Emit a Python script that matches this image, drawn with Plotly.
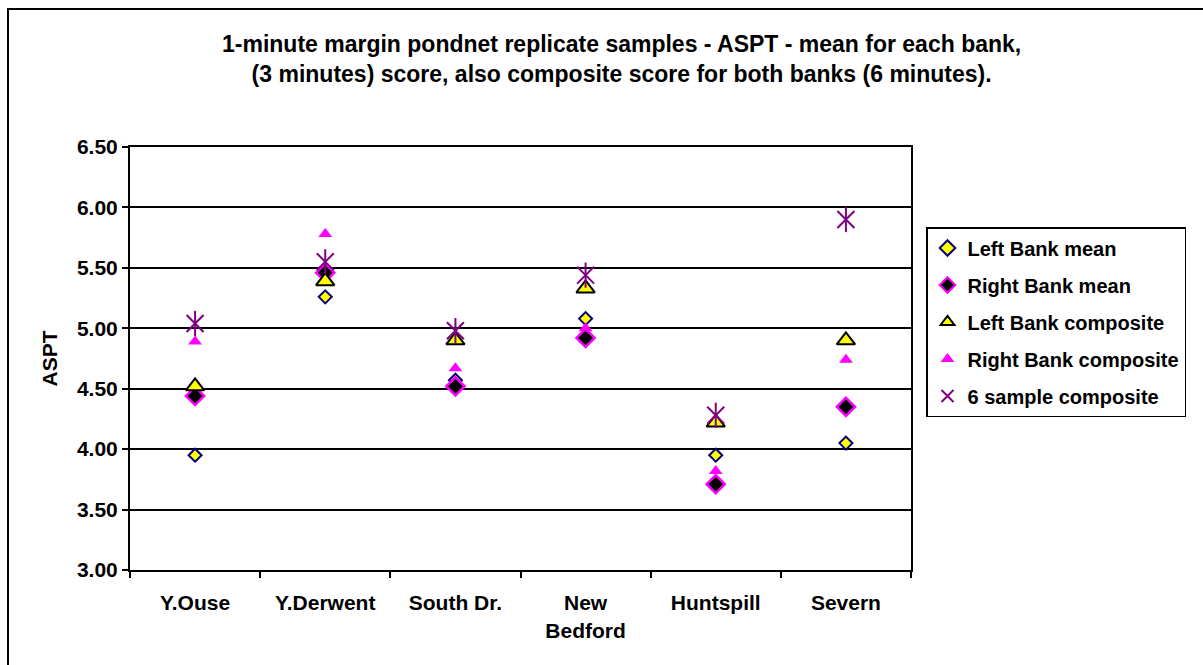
import plotly.graph_objects as go

categories = ["Y.Ouse", "Y.Derwent", "South Dr.", "New<br>Bedford", "Huntspill", "Severn"]
left_bank_mean = [3.95, 5.26, 4.57, 5.08, 3.95, 4.05]
right_bank_mean = [4.44, 5.46, 4.52, 4.92, 3.71, 4.35]
left_bank_comp = [4.52, 5.39, 4.90, 5.33, 4.22, 4.90]
right_bank_comp = [4.89, 5.78, 4.67, 5.00, 3.82, 4.74]
six_sample_comp = [5.04, 5.55, 4.98, 5.44, 4.28, 5.90]
y_ticks = [3.0, 3.5, 4.0, 4.5, 5.0, 5.5, 6.0, 6.5]

FONT = "Liberation Sans, Arial, sans-serif"

fig = go.Figure()
fig.add_trace(go.Scatter(
    x=categories, y=left_bank_mean, mode="markers", name="Left Bank mean",
    legendgroup="a",
    marker=dict(symbol="diamond", size=10, color="#FFFF00", line=dict(color="#000080", width=2))))
fig.add_trace(go.Scatter(
    x=categories, y=right_bank_mean, mode="markers", name="Right Bank mean",
    legendgroup="b",
    marker=dict(symbol="diamond", size=14, color="#000000", line=dict(color="#FF00FF", width=2.5))))
fig.add_trace(go.Scatter(
    x=categories, y=left_bank_comp, mode="markers", name="Left Bank composite",
    legendgroup="c",
    marker=dict(symbol="triangle-up", size=16, color="#FFFF00", line=dict(color="#000000", width=2))))
fig.add_trace(go.Scatter(
    x=categories, y=right_bank_comp, mode="markers", name="Right Bank composite",
    legendgroup="d",
    marker=dict(symbol="triangle-up", size=12, color="#FF00FF", line=dict(width=0))))
fig.add_trace(go.Scatter(
    x=categories, y=six_sample_comp, mode="markers", name="6 sample composite",
    legendgroup="e",
    marker=dict(symbol="x-thin-open", size=17, color="#800080", line=dict(color="#800080", width=2))))
fig.add_trace(go.Scatter(
    x=categories, y=six_sample_comp, mode="markers", showlegend=False,
    legendgroup="e", hoverinfo="skip",
    marker=dict(symbol="line-ns-open", size=18, color="#800080", line=dict(color="#800080", width=2))))

W, H = 1203, 665
L, R, T, B = 130, 292, 147, 95
pw, ph = W - L - R, H - T - B

def px_x(x):
    return (x - L) / pw

def px_y(y):
    return (H - B - y) / ph

fig.update_layout(
    width=W, height=H,
    margin=dict(l=L, r=R, t=T, b=B, autoexpand=False),
    paper_bgcolor="white", plot_bgcolor="white",
    font=dict(family=FONT, size=21, color="black", weight="bold"),
    showlegend=True,
    legend=dict(
        x=px_x(926), y=px_y(227), xanchor="left", yanchor="top",
        bordercolor="black", borderwidth=1.5, bgcolor="white",
        font=dict(family=FONT, size=20, color="black", weight="bold"),
        traceorder="grouped", tracegroupgap=8,
        itemsizing="constant", itemwidth=30,
    ),
    xaxis=dict(
        type="category", range=[-0.5, 5.5],
        showline=True, linecolor="black", linewidth=2, mirror=True,
        ticks="outside", tickson="boundaries", ticklen=6, tickcolor="black", tickwidth=2,
        showgrid=False, zeroline=False, ticklabelstandoff=13,
        tickfont=dict(family=FONT, size=21, color="black", weight="bold"),
    ),
    yaxis=dict(
        range=[3.0, 6.5], tickvals=y_ticks, tickformat=".2f",
        showline=True, linecolor="black", linewidth=2, mirror=True,
        ticks="outside", ticklen=6, tickcolor="black", tickwidth=2,
        showgrid=True, gridcolor="black", gridwidth=1.5, zeroline=False,
        tickfont=dict(family=FONT, size=21, color="black", weight="bold"),
        title=dict(text="ASPT", standoff=14,
                   font=dict(family=FONT, size=21, color="black", weight="bold")),
    ),
    shapes=[dict(type="rect", xref="paper", yref="paper",
                 x0=px_x(8), y0=px_y(720), x1=px_x(1260), y1=px_y(9),
                 line=dict(color="black", width=2), fillcolor="rgba(0,0,0,0)", layer="below")],
    annotations=[dict(
        text="1-minute margin pondnet replicate samples - ASPT - mean for each bank,<br>"
             "(3 minutes) score, also composite score for both banks (6 minutes).",
        xref="paper", yref="paper", x=px_x(621), y=px_y(59),
        xanchor="center", yanchor="middle", showarrow=False, align="center",
        font=dict(family=FONT, size=23, color="black", weight="bold"))],
)

fig.write_html("out.html")
